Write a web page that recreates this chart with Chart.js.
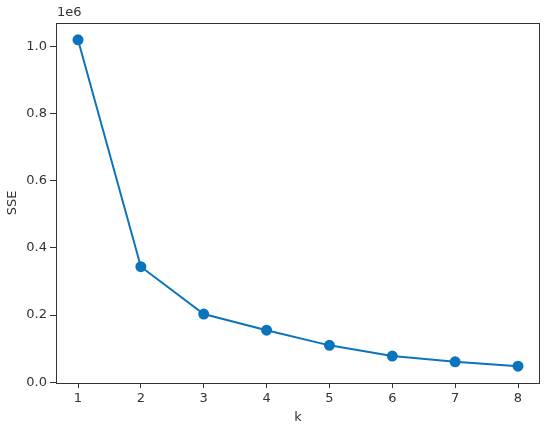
<!DOCTYPE html>
<html>
<head>
<meta charset="utf-8">
<script src="https://cdn.jsdelivr.net/npm/chart.js@4"></script>
<style>
  html, body { margin: 0; padding: 0; background: #fff; }
  #wrap { width: 550px; height: 429px; }
</style>
</head>
<body>
<div id="wrap"><canvas id="c" width="550" height="429"></canvas></div>
<script>
const kValues = [1, 2, 3, 4, 5, 6, 7, 8];
const sse = [1019000, 344000, 203000, 155000, 110000, 78000, 61000, 48000];
const yTicks = [0, 200000, 400000, 600000, 800000, 1000000];

const lineColor = '#0b74bd';
const inkColor = '#333333';
const fontFamily = '"DejaVu Sans", sans-serif';

// frame around the plot area plus the "1e6" offset label
const framePlugin = {
    id: 'frame',
    afterDraw(chart) {
        const { ctx, chartArea: a } = chart;
        ctx.save();
        ctx.strokeStyle = inkColor;
        ctx.lineWidth = 1;
        ctx.strokeRect(a.left + 0.5, a.top + 0.5, a.right - a.left - 1, a.bottom - a.top);
        ctx.fillStyle = inkColor;
        ctx.font = '13px ' + fontFamily;
        ctx.textAlign = 'left';
        ctx.textBaseline = 'bottom';
        ctx.fillText('1e6', a.left + 1, a.top - 4);
        ctx.restore();
    }
};

new Chart(document.getElementById('c'), {
    type: 'line',
    data: {
        datasets: [{
            data: kValues.map((k, i) => ({ x: k, y: sse[i] })),
            borderColor: lineColor,
            backgroundColor: lineColor,
            borderWidth: 2,
            pointRadius: 4.5,
            pointHoverRadius: 4.5,
            tension: 0
        }]
    },
    options: {
        responsive: false,
        animation: false,
        layout: { padding: { top: 23, right: 10, left: 0, bottom: 0 } },
        plugins: { legend: { display: false }, tooltip: { enabled: false } },
        scales: {
            x: {
                type: 'linear',
                min: 0.65,
                max: 8.35,
                afterBuildTicks(axis) { axis.ticks = kValues.map(v => ({ value: v })); },
                afterFit(axis) { axis.height = 46; },
                border: { display: false },
                grid: { drawOnChartArea: false, tickLength: 5, tickColor: inkColor, tickWidth: 1 },
                ticks: {
                    color: inkColor,
                    padding: 3,
                    maxRotation: 0,
                    font: { family: fontFamily, size: 13 },
                    callback: v => String(v)
                },
                title: {
                    display: true,
                    text: 'k',
                    color: inkColor,
                    font: { family: fontFamily, size: 13 },
                    padding: { top: 0, bottom: 4 }
                }
            },
            y: {
                min: -2000,
                max: 1069000,
                afterBuildTicks(axis) { axis.ticks = yTicks.map(v => ({ value: v })); },
                afterFit(axis) { axis.width = 56; },
                border: { display: false },
                grid: { drawOnChartArea: false, tickLength: 6, tickColor: inkColor, tickWidth: 1 },
                ticks: {
                    color: inkColor,
                    padding: 3,
                    font: { family: fontFamily, size: 13 },
                    callback: v => (v / 1e6).toFixed(1)
                },
                title: {
                    display: true,
                    text: 'SSE',
                    color: inkColor,
                    font: { family: fontFamily, size: 13 },
                    padding: { top: 5, bottom: 0 }
                }
            }
        }
    },
    plugins: [framePlugin]
});
</script>
</body>
</html>
